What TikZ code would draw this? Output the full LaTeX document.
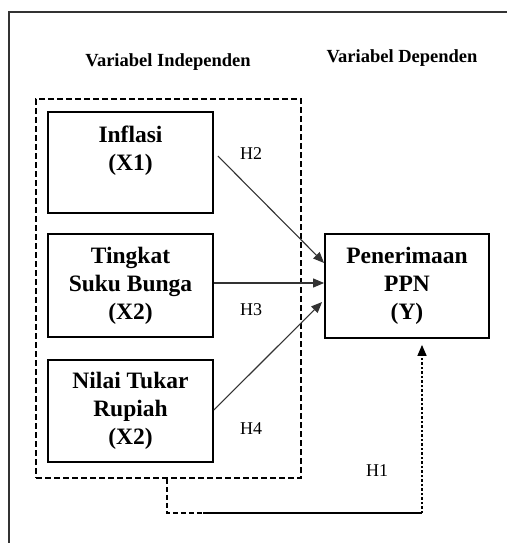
\documentclass[tikz,border=0pt]{standalone}
\usepackage{fontspec}
\setmainfont{Liberation Serif}
\usetikzlibrary{positioning, arrows.meta}

\begin{document}
\begin{tikzpicture}[
    x=1pt, y=-1pt,
    box/.style={rectangle, draw=black, line width=1.8pt,
                minimum width=165pt, minimum height=102pt,
                align=center, inner sep=0pt,
                font=\bfseries\fontsize{23.5}{28}\selectfont},
    group/.style={rectangle, draw=black, dashed, line width=1.6pt,
                  dash pattern=on 6pt off 3pt,
                  minimum width=265pt, minimum height=379pt, inner sep=0pt},
    head/.style={font=\bfseries\fontsize{18.5}{20}\selectfont},
    hyp/.style={font=\fontsize{18}{20}\selectfont},
    arr/.style={-{Triangle[length=11pt,width=9pt]}, line width=1.1pt, black!80},
    >=Stealth
]
\useasboundingbox (0,0) rectangle (506,543);

%% --- Bingkai luar ---
\draw[line width=2.4pt, black!80] (9,560) -- (9,12) -- (520,12);

%% --- Judul kolom ---
\node[head] (t_indep) at (168, 62) {Variabel Independen};
\node[head] (t_dep)   at (402, 58) {Variabel Dependen};

%% --- Kotak variabel independen ---
\node[group] (indep) at (168.5, 288.5) {};

\node[box, minimum height=101pt] (infl)  at (130.5, 162.5) {Inflasi\\(X1)\\~};
\node[box, minimum height=103pt] (bunga) at (130.5, 285.5) {Tingkat\\Suku Bunga\\(X2)};
\node[box]                       (kurs)  at (130.5, 411)   {Nilai Tukar\\Rupiah\\(X2)};

%% --- Variabel dependen ---
\node[box, minimum width=164pt, minimum height=104pt] (ppn) at (407, 286) {Penerimaan\\PPN\\(Y)};

%% --- Label hipotesis ---
\node[hyp] (h2) at (251, 154) {H2};
\node[hyp] (h3) at (251, 310) {H3};
\node[hyp] (h4) at (251, 429) {H4};
\node[hyp] (h1) at (377, 471) {H1};

%% --- Panah X -> Y ---
\draw[arr] ([xshift=4pt, yshift=6.5pt]infl.east) -- ([yshift=23pt]ppn.west);
\draw[arr] ([yshift=2.5pt]bunga.east) -- ([yshift=3pt]ppn.west);
\draw[arr] ([yshift=1pt]kurs.east)    -- ([xshift=-2pt, yshift=-16pt]ppn.west);

%% --- Panah simultan (H1) ---
\coordinate (h1a) at (167, 513);
\coordinate (h1b) at (203, 513);
\coordinate (h1c) at (422, 513);
\draw[line width=1.5pt, dash pattern=on 5pt off 3pt] (indep.south -| h1a) -- (h1a) -- (h1b);
\draw[line width=1.5pt] (h1b) -- (h1c);
\draw[arr, line width=1.5pt, black, dash pattern=on 2.5pt off 2pt] (h1c) -- ([yshift=-6pt]ppn.south -| h1c);

\end{tikzpicture}
\end{document}
